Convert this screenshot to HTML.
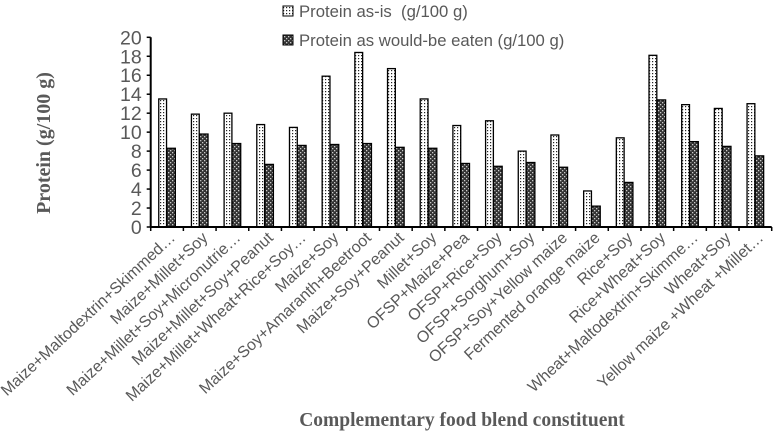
<!DOCTYPE html>
<html><head><meta charset="utf-8"><style>
body{margin:0;background:#fff}
svg{display:block}
text{font-family:"Liberation Sans",sans-serif;fill:#595959}
.t{font-family:"Liberation Serif",serif;font-weight:bold;fill:#595959}
</style></head><body>
<svg id="c" width="775" height="434">
<defs>
<pattern id="dots" width="3" height="3" patternUnits="userSpaceOnUse"><rect width="3" height="3" fill="#fff"/><rect x="1" y="1" width="1.2" height="1.2" fill="#222"/></pattern>
<pattern id="hatch" width="4" height="4" patternUnits="userSpaceOnUse"><rect width="4" height="4" fill="#333"/><rect x="0" y="0" width="1.3" height="1.3" fill="#ccc"/><rect x="2" y="2" width="1.3" height="1.3" fill="#ccc"/></pattern>
</defs>
<g id="legend">
<rect x="283" y="6" width="10" height="10" fill="url(#dots)" stroke="#000"/>
<text x="299" y="17" font-size="16.7">Protein as-is &#160;(g/100 g)</text>
<rect x="283" y="35" width="10" height="10" fill="url(#hatch)" stroke="#000"/>
<text x="299" y="46" font-size="16.7">Protein as would-be eaten (g/100 g)</text>
</g>
<text class="t" transform="translate(50,143) rotate(-90)" text-anchor="middle" font-size="20">Protein (g/100 g)</text>
<text class="t" x="462" y="426" text-anchor="middle" font-size="19.5">Complementary food blend constituent</text>
<g id="plot"></g>
</svg>
<script>
const categories=["Maize+Maltodextrin+Skimmed…","Maize+Millet+Soy","Maize+Millet+Soy+Micronutrie…","Maize+Millet+Soy+Peanut","Maize+Millet+Wheat+Rice+Soy…","Maize+Soy","Maize+Soy+Amaranth+Beetroot","Maize+Soy+Peanut","Millet+Soy","OFSP+Maize+Pea","OFSP+Rice+Soy","OFSP+Sorghum+Soy","OFSP+Soy+Yellow maize","Fermented orange maize","Rice+Soy","Rice+Wheat+Soy","Wheat+Maltodextrin+Skimme…","Wheat+Soy","Yellow maize +Wheat +Millet…"];
const asIs=[13.5,11.9,12.0,10.8,10.5,15.9,18.4,16.7,13.5,10.7,11.2,8.0,9.7,3.8,9.4,18.1,12.9,12.5,13.0];
const eaten=[8.3,9.8,8.8,6.6,8.6,8.7,8.8,8.4,8.3,6.7,6.4,6.8,6.3,2.2,4.7,13.4,9.0,8.5,7.5];
const yTicks=[0,2,4,6,8,10,12,14,16,18,20];
const X0=150.7,X1=771.7,Y0=227,Y1=37.3,YMAX=20;
const y=v=>Y0-(v/YMAX)*(Y0-Y1);
const bw=(X1-X0)/categories.length;
const x=i=>X0+i*bw;
const g=document.getElementById('plot');
const NS='http://www.w3.org/2000/svg';
function mk(t,a){const e=document.createElementNS(NS,t);for(const k in a)e.setAttribute(k,a[k]);g.appendChild(e);return e;}
yTicks.forEach(v=>{
 const t=mk('text',{x:X0-9,y:y(v)+7,'font-size':19.5,'text-anchor':'end'});t.textContent=v;
 
 
 const l=mk('line',{x1:X0-4,x2:X0,y1:y(v),y2:y(v),stroke:'#000','stroke-width':1.5});
 
 
});
categories.forEach((c,i)=>{
 const cx=x(i)+bw/2;
 const a=mk('rect',{x:cx-8.3,y:y(asIs[i]),width:7.8,height:Y0-y(asIs[i]),fill:'url(#dots)',stroke:'#000','stroke-width':1.3});
 
 
 const b=mk('rect',{x:cx-0.3,y:y(eaten[i]),width:8.6,height:Y0-y(eaten[i]),fill:'url(#hatch)',stroke:'#000','stroke-width':1.3});
 
 
 const tk=mk('line',{x1:x(i),x2:x(i),y1:Y0,y2:Y0+4,stroke:'#000','stroke-width':1.5});
 
 
 const t=mk('text',{transform:`translate(${cx+9},${Y0+12}) rotate(-43)`,'font-size':16,'text-anchor':'end'});t.textContent=c;
 
 
});
const lt=mk('line',{x1:X1,x2:X1,y1:Y0,y2:Y0+4,stroke:'#000','stroke-width':1.5});


const ya=mk('line',{x1:X0,x2:X0,y1:Y1,y2:Y0,stroke:'#000','stroke-width':2});


const xa=mk('line',{x1:X0,x2:X1,y1:Y0,y2:Y0,stroke:'#000','stroke-width':2});


</script>
</body></html>
